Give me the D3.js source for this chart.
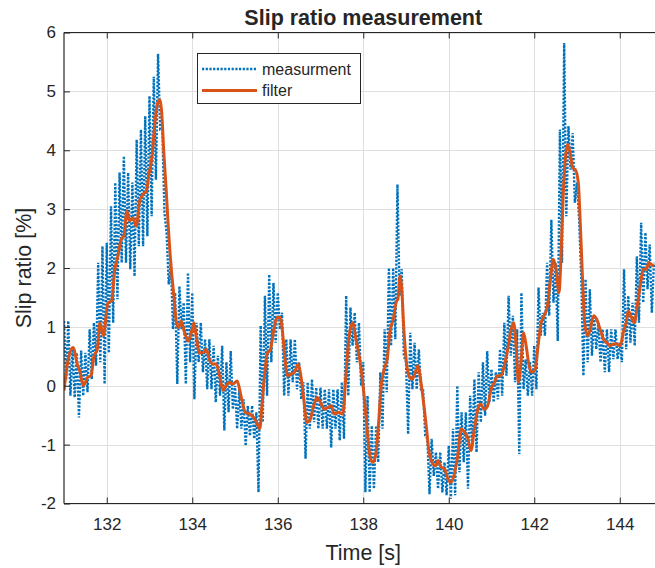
<!DOCTYPE html>
<html>
<head>
<meta charset="utf-8">
<script src="https://cdn.jsdelivr.net/npm/d3@7"></script>
<style>
  html, body { margin: 0; padding: 0; background: #fff; }
  svg { display: block; }
  text { font-family: "Liberation Sans", Arial, Helvetica, sans-serif; fill: #262626; }
</style>
</head>
<body>
<div id="chart"></div>
<script>
// ---------------- data ----------------
const titleText = "Slip ratio measurement";
const xLabelText = "Time [s]";
const yLabelText = "Slip ratio [%]";
const seriesNames = ["measurment", "filter"];
const xTicks = [132, 134, 136, 138, 140, 142, 144];
const yTicks = [-2, -1, 0, 1, 2, 3, 4, 5, 6];
const xDomain = [131, 145];
const yDomain = [-2, 6];

// measurement: local peaks (t = 131.00 + 0.1 i) and troughs (t = 131.05 + 0.1 i)
const measStart = 131.0;
const measStep = 0.05;
const measPeaks = [
  1.10, 1.10, 0.62, 0.56, 0.60, 0.56, 0.96, 1.07, 2.09, 2.37,
  2.43, 3.05, 3.45, 3.62, 3.90, 3.62, 3.45, 4.18, 4.35, 4.58,
  4.92, 5.25, 5.64, 4.35, 2.60, 2.09, 1.58, 1.69, 1.41, 1.92,
  1.58, 1.07, 1.07, 0.79, 0.79, 0.68, 0.51, 0.68, 0.40, 0.59,
  0.00, -0.06, -0.23, -0.34, -0.34, -0.45, 1.02, 1.53, 1.89, 1.75,
  1.58, 1.24, 0.79, 0.79, 0.79, 0.40, 0.06, 0.06, 0.11, -0.03,
  -0.03, -0.06, -0.06, -0.06, -0.06, 0.06, 1.53, 1.33, 1.24, 1.07,
  0.40, -0.17, -0.68, -0.68, 0.23, 0.96, 2.00, 2.00, 3.42, 1.98,
  0.40, 0.90, 0.73, 0.62, -0.06, -0.90, -0.90, -1.13, -1.13, -1.30,
  -1.02, -0.73, 0.00, -0.45, -0.45, -0.17, 0.11, 0.23, 0.40, 0.59,
  0.28, 0.23, 0.62, 1.07, 1.53, 1.19, 0.96, 1.58, 0.45, 0.40,
  0.68, 1.67, 1.24, 2.09, 2.82, 2.09, 4.35, 5.82, 4.41, 4.29,
  3.45, 1.81, 1.81, 1.64, 1.19, 1.07, 0.96, 0.96, 0.96, 0.96,
  0.73, 1.98, 1.53, 1.41, 2.20, 2.77, 2.60, 2.40, 2.09
];
const measTroughs = [
  0.10, -0.17, -0.20, -0.54, -0.17, -0.11, 0.11, 0.34, 0.40, 0.03,
  0.56, 1.07, 1.47, 2.09, 2.09, 1.98, 1.86, 2.37, 2.37, 2.54,
  2.88, 3.50, 4.35, 2.94, 1.72, 0.96, 0.03, 0.96, 0.03, 0.40,
  -0.23, 0.40, 0.23, -0.06, -0.06, -0.28, -0.17, -0.76, -0.45, -0.40,
  -0.73, -0.73, -1.02, -0.85, -0.90, -1.81, -0.62, -0.17, 0.40, 0.73,
  0.96, -0.17, -0.17, 0.06, -0.06, -0.23, -1.24, -0.73, -0.62, -0.73,
  -0.73, -0.73, -1.05, -0.73, -0.93, -0.90, -0.17, 0.68, 0.40, 0.00,
  -1.81, -1.81, -1.75, -1.30, -0.73, -0.11, 0.68, 0.79, 1.53, 0.51,
  -0.82, -0.06, -0.06, -0.06, -0.85, -1.84, -1.53, -1.75, -1.81, -1.86,
  -1.92, -1.86, -1.47, -1.30, -1.75, -1.02, -1.13, -0.62, -0.51, -0.28,
  -0.28, -0.23, -0.17, 0.17, 0.51, 0.06, -1.16, -0.06, -0.17, -0.17,
  -0.06, 0.85, 0.85, 1.19, 1.41, 0.76, 2.09, 2.88, 3.67, 3.11,
  2.82, 0.17, 0.40, 0.51, 0.62, 0.40, 0.23, 0.23, 0.45, 0.45,
  0.40, 0.62, 0.73, 0.68, 1.07, 1.41, 1.64, 1.24
];

// filter output
const filterTime = [
  131.00, 131.10, 131.21, 131.32, 131.37, 131.45, 131.55, 131.63, 131.70, 131.78,
  131.84, 131.92, 132.03, 132.11, 132.19, 132.26, 132.34, 132.40, 132.47, 132.54,
  132.61, 132.69, 132.77, 132.85, 132.93, 132.98, 133.06, 133.12, 133.18, 133.24,
  133.28, 133.34, 133.39, 133.43, 133.51, 133.57, 133.63, 133.68, 133.74, 133.81,
  133.90, 133.98, 134.04, 134.09, 134.17, 134.25, 134.33, 134.40, 134.48, 134.56,
  134.64, 134.72, 134.79, 134.87, 134.95, 135.05, 135.14, 135.24, 135.34, 135.44,
  135.52, 135.58, 135.63, 135.69, 135.75, 135.83, 135.91, 135.98, 136.06, 136.12,
  136.17, 136.23, 136.31, 136.39, 136.48, 136.54, 136.61, 136.68, 136.76, 136.84,
  136.92, 137.00, 137.09, 137.17, 137.25, 137.32, 137.42, 137.52, 137.60, 137.67,
  137.75, 137.83, 137.94, 138.02, 138.09, 138.17, 138.23, 138.30, 138.36, 138.42,
  138.50, 138.56, 138.62, 138.70, 138.78, 138.81, 138.86, 138.90, 138.95, 139.01,
  139.07, 139.14, 139.22, 139.28, 139.35, 139.42, 139.48, 139.54, 139.61, 139.69,
  139.75, 139.82, 139.90, 139.98, 140.05, 140.13, 140.21, 140.29, 140.37, 140.44,
  140.52, 140.60, 140.68, 140.75, 140.83, 140.91, 140.99, 141.07, 141.14, 141.22,
  141.30, 141.38, 141.46, 141.52, 141.58, 141.63, 141.69, 141.75, 141.81, 141.88,
  141.94, 142.02, 142.08, 142.16, 142.23, 142.31, 142.37, 142.45, 142.51, 142.58,
  142.62, 142.67, 142.72, 142.78, 142.84, 142.90, 142.96, 143.03, 143.07, 143.12,
  143.18, 143.25, 143.31, 143.39, 143.46, 143.54, 143.62, 143.70, 143.77, 143.85,
  143.93, 144.01, 144.09, 144.15, 144.20, 144.26, 144.34, 144.42, 144.49, 144.55,
  144.62, 144.68, 144.74, 144.80
];
const filterValue = [
  -0.08, 0.45, 0.65, 0.34, 0.25, 0.00, 0.14, 0.17, 0.50, 0.62,
  1.07, 0.85, 1.41, 1.44, 1.98, 2.20, 2.49, 2.54, 2.97, 2.80,
  2.85, 2.71, 3.14, 3.25, 3.31, 3.56, 3.90, 4.41, 4.77, 4.86,
  4.69, 3.90, 3.33, 2.82, 1.98, 1.53, 1.07, 0.99, 1.10, 0.93,
  0.76, 0.90, 1.07, 0.85, 0.56, 0.56, 0.62, 0.45, 0.37, 0.37,
  0.17, -0.08, 0.00, 0.06, 0.03, 0.08, -0.17, -0.45, -0.48, -0.54,
  -0.65, -0.73, -0.34, 0.17, 0.54, 0.62, 0.96, 1.16, 1.16, 0.85,
  0.45, 0.17, 0.20, 0.23, 0.37, 0.17, -0.23, -0.62, -0.57, -0.34,
  -0.20, -0.28, -0.40, -0.37, -0.34, -0.48, -0.45, -0.48, 0.23, 0.85,
  1.07, 0.79, 0.34, -0.17, -0.73, -1.24, -1.30, -1.13, -0.62, 0.00,
  0.31, 0.45, 0.90, 1.13, 1.44, 1.47, 1.86, 1.64, 0.96, 0.40,
  0.17, 0.11, 0.23, 0.34, 0.06, -0.34, -0.73, -1.13, -1.30, -1.36,
  -1.27, -1.38, -1.41, -1.58, -1.64, -1.50, -1.19, -0.73, -0.79, -0.88,
  -1.10, -0.73, -0.40, -0.31, -0.40, -0.34, -0.06, 0.06, 0.17, 0.17,
  0.34, 0.62, 0.96, 1.07, 0.62, 0.06, 0.40, 0.90, 0.68, 0.34,
  0.23, 0.28, 0.62, 1.07, 1.19, 1.36, 1.75, 2.15, 1.98, 1.58,
  2.09, 3.11, 3.79, 4.10, 3.95, 3.70, 3.67, 3.45, 2.88, 1.98,
  1.07, 0.85, 0.96, 1.19, 1.13, 0.96, 0.79, 0.73, 0.68, 0.71,
  0.71, 0.68, 0.93, 1.07, 1.27, 1.19, 1.07, 1.41, 1.75, 1.98,
  1.98, 2.09, 2.06, 2.03
];

// ---------------- build tables ----------------
const measData = [];
for (let i = 0; i < measPeaks.length; i++) {
  measData.push({ t: measStart + 2 * i * measStep, v: measPeaks[i] });
  if (i < measTroughs.length) measData.push({ t: measStart + (2 * i + 1) * measStep, v: measTroughs[i] });
}
const filterData = filterTime.map((t, i) => ({ t, v: filterValue[i] }));

// ---------------- layout ----------------
const W = 655, H = 568;
const pL = 64, pT = 32.5, pR = 662.5, pB = 503.5;
const ink = "#262626";
const blue = "#0072BD", orange = "#D95319";
const measWidth = 2.4, measDash = "2.2,1.5";
const filterWidth = 3;

const svg = d3.select("#chart").append("svg").attr("width", W).attr("height", H);

const x = d3.scaleLinear().domain(xDomain).range([pL, pR]);
const y = d3.scaleLinear().domain(yDomain).range([pB, pT]);

svg.append("defs").append("clipPath").attr("id", "plotclip")
  .append("rect").attr("x", pL).attr("y", pT).attr("width", pR - pL).attr("height", pB - pT);

// grid
const grid = svg.append("g").attr("stroke", "#dfdfdf").attr("stroke-width", 1);
grid.selectAll("line.vx").data(xTicks).join("line")
  .attr("x1", d => Math.round(x(d)) + 0.5).attr("x2", d => Math.round(x(d)) + 0.5)
  .attr("y1", pT).attr("y2", pB);
grid.selectAll("line.hy").data(yTicks).join("line")
  .attr("y1", d => Math.round(y(d)) + 0.5).attr("y2", d => Math.round(y(d)) + 0.5)
  .attr("x1", pL).attr("x2", pR);

// data
const plot = svg.append("g").attr("clip-path", "url(#plotclip)");
const line = d3.line().x(d => x(d.t)).y(d => y(d.v));
plot.append("path").datum(measData)
  .attr("fill", "none").attr("stroke", blue).attr("stroke-width", measWidth)
  .attr("stroke-dasharray", measDash).attr("d", line);
plot.append("path").datum(filterData)
  .attr("fill", "none").attr("stroke", orange).attr("stroke-width", filterWidth)
  .attr("stroke-linejoin", "round")
  .attr("d", line.curve(d3.curveMonotoneX));

// axes
const fontTick = "17px";
const fmt = d => String(d);
const axB = svg.append("g").attr("transform", `translate(0,${pB})`)
  .call(d3.axisBottom(x).tickValues(xTicks).tickSize(-6).tickPadding(14).tickFormat(fmt));
const axT = svg.append("g").attr("transform", `translate(0,${pT})`)
  .call(d3.axisTop(x).tickValues(xTicks).tickSize(-6).tickFormat(""));
const axL = svg.append("g").attr("transform", `translate(${pL},0)`)
  .call(d3.axisLeft(y).tickValues(yTicks).tickSize(-6).tickPadding(8).tickFormat(fmt));
const axR = svg.append("g").attr("transform", `translate(${pR},0)`)
  .call(d3.axisRight(y).tickValues(yTicks).tickSize(-6).tickFormat(""));
[axB, axT, axL, axR].forEach(a => {
  a.select(".domain").attr("stroke", ink).attr("stroke-width", 1.2);
  a.selectAll(".tick line").attr("stroke", ink).attr("stroke-width", 1);
  a.selectAll(".tick text").attr("fill", ink).style("font-size", fontTick)
    .style("font-family", '"Liberation Sans", Arial, Helvetica, sans-serif');
});
axL.select(".domain").attr("d", `M0,${pT}V${pB}`);
axR.select(".domain").attr("d", `M0,${pT}V${pB}`);
axB.select(".domain").attr("d", `M${pL},0H${pR}`);
axT.select(".domain").attr("d", `M${pL},0H${pR}`);

// title and labels
svg.append("text").attr("x", (pL + pR) / 2).attr("y", 24.5)
  .attr("text-anchor", "middle").style("font-size", "21.5px").style("font-weight", "bold")
  .text(titleText);
svg.append("text").attr("x", (pL + pR) / 2).attr("y", 560)
  .attr("text-anchor", "middle").style("font-size", "21.5px").text(xLabelText);
svg.append("text").attr("transform", `translate(31,${(pT + pB) / 2}) rotate(-90)`)
  .attr("text-anchor", "middle").style("font-size", "21.5px").text(yLabelText);

// legend
const lg = svg.append("g");
lg.append("rect").attr("x", 197.5).attr("y", 53.5).attr("width", 163).attr("height", 50)
  .attr("fill", "#fff").attr("stroke", ink).attr("stroke-width", 1);
const legendRows = [
  { name: seriesNames[0], color: blue, width: measWidth, dash: measDash, cy: 69 },
  { name: seriesNames[1], color: orange, width: filterWidth, dash: null, cy: 90.5 }
];
legendRows.forEach(r => {
  lg.append("line").attr("x1", 202).attr("x2", 257).attr("y1", r.cy).attr("y2", r.cy)
    .attr("stroke", r.color).attr("stroke-width", r.width)
    .attr("stroke-dasharray", r.dash);
  lg.append("text").attr("x", 262).attr("y", r.cy + 5.8).style("font-size", "16px").text(r.name);
});
</script>
</body>
</html>
